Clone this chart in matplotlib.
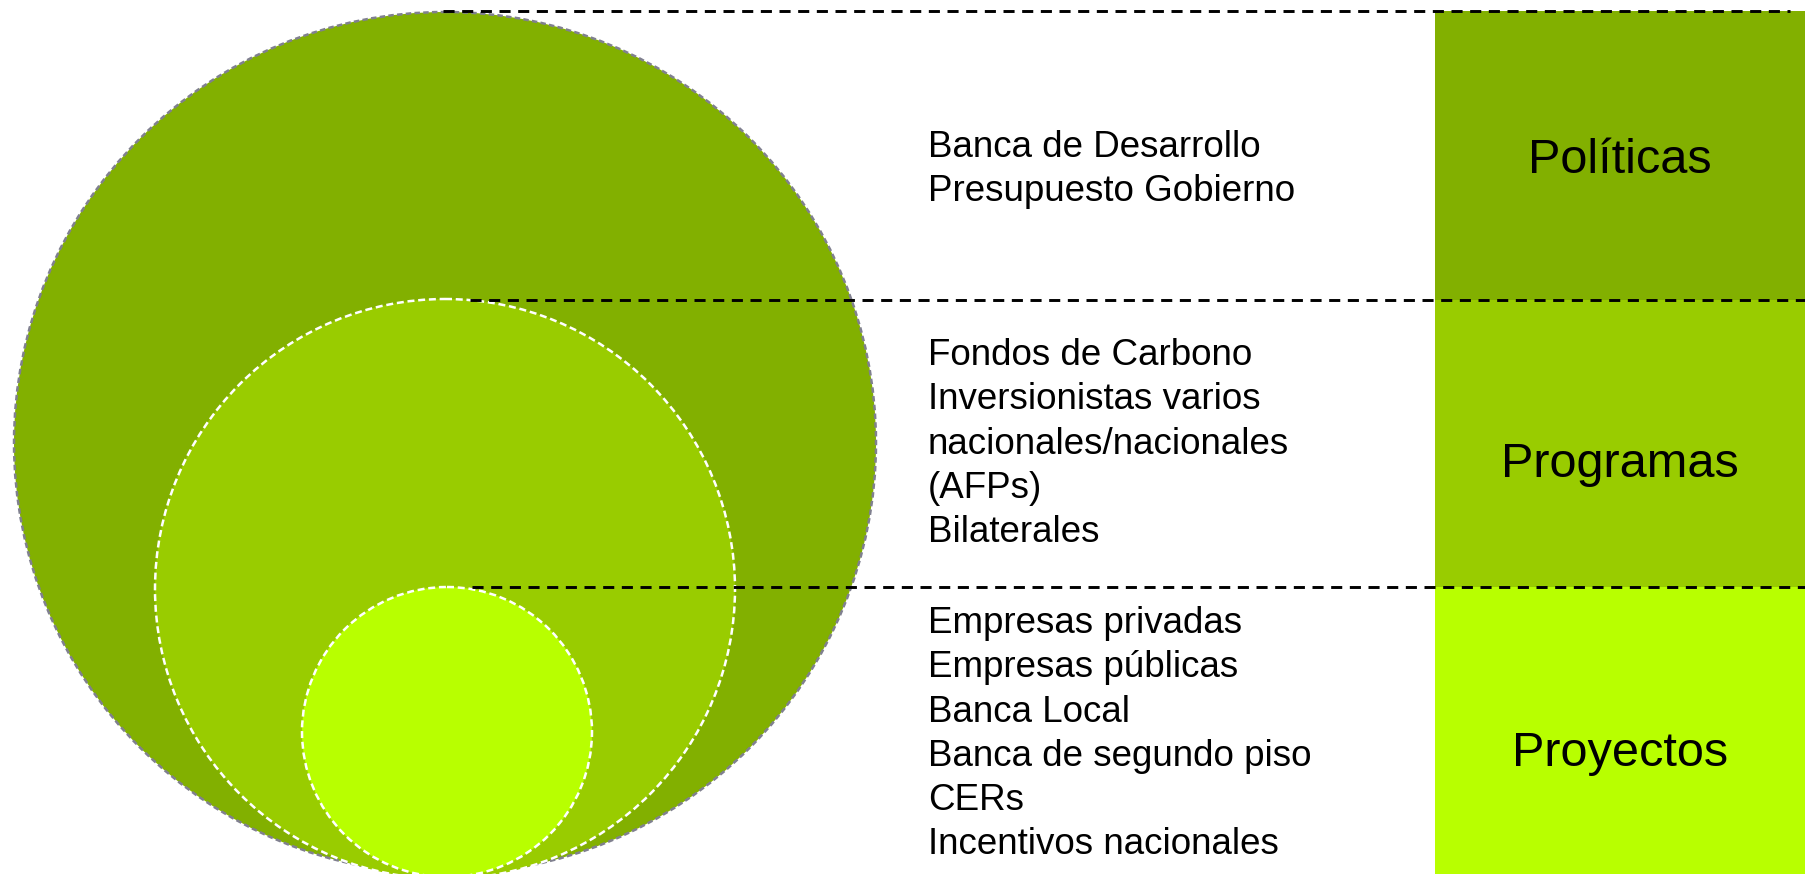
import matplotlib
matplotlib.use('Agg')
import matplotlib.pyplot as plt
from matplotlib.patches import Circle, Rectangle

plt.rcParams['font.family'] = ['Liberation Sans', 'DejaVu Sans']

# tiers, top to bottom
niveles = ['Políticas', 'Programas', 'Proyectos']
fuentes = [
    ['Banca de Desarrollo', 'Presupuesto Gobierno'],
    ['Fondos de Carbono', 'Inversionistas varios', 'nacionales/nacionales', '(AFPs)', 'Bilaterales'],
    ['Empresas privadas', 'Empresas públicas', 'Banca Local', 'Banca de segundo piso', 'CERs',
     'Incentivos nacionales'],
]
colores = ['#82B000', '#99CC00', '#B8FF00']

# layout (pixel units, y pointing down)
W, H = 1805, 874
circ_cx = [445, 445, 447]
circ_cy = [443, 589, 732]
circ_r = [431, 290, 145]
borde = [('#80808f', (0, (2.2, 1.3))), ('white', (0, (2.8, 1.5))), ('white', (0, (2.8, 1.5)))]
limites = [11, 300, 587, H]
linea_x0 = [443, 470, 472]
linea_x1 = [1790, W, W]
rect_x0 = 1435
texto_x = 928
texto_y0 = [157, 365, 633]
paso = 44.3
etiqueta_base = [173, 477, 766]

fig = plt.figure(figsize=(W / 100, H / 100), dpi=100, facecolor='white')
ax = fig.add_axes([0, 0, 1, 1])
ax.set_xlim(0, W)
ax.set_ylim(H, 0)
ax.set_aspect('equal')
ax.axis('off')

# nested circles
for i in range(3):
    c = Circle((circ_cx[i], circ_cy[i]), circ_r[i], facecolor=colores[i],
               edgecolor=borde[i][0], linewidth=1.8, linestyle=borde[i][1], zorder=1 + i)
    ax.add_patch(c)

# coloured boxes on the right with tier names
for i, nombre in enumerate(niveles):
    ax.add_patch(Rectangle((rect_x0, limites[i]), W - rect_x0, limites[i + 1] - limites[i],
                           facecolor=colores[i], edgecolor='none', zorder=5))
    ax.text((rect_x0 + W) / 2, etiqueta_base[i], nombre, fontsize=35, ha='center',
            va='baseline', color='black', zorder=7)

# dashed separators
for i in range(3):
    ax.plot([linea_x0[i], linea_x1[i]], [limites[i], limites[i]], color='black',
            linewidth=2.1, linestyle=(0, (3.8, 2.6)), zorder=6, solid_capstyle='butt')

# funding sources
for i, lista in enumerate(fuentes):
    for j, t in enumerate(lista):
        ax.text(texto_x, texto_y0[i] + j * paso, t, fontsize=26.5, ha='left',
                va='baseline', color='black', zorder=7)

plt.savefig('out.png', dpi=100, facecolor='white')
plt.close()
